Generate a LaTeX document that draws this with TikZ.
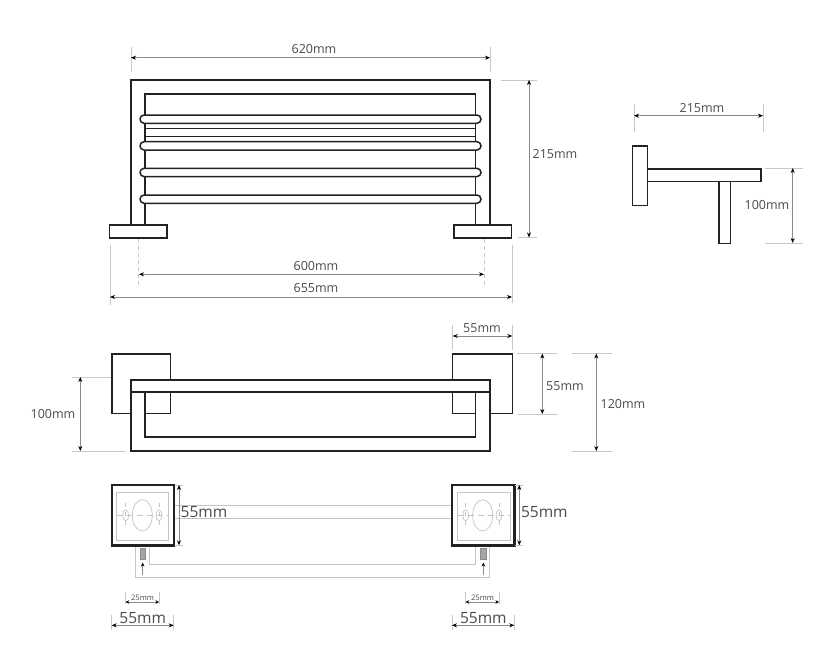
\documentclass[tikz,border=0pt]{standalone}
\usepackage{fontspec}
\setmainfont{Open Sans}
\usetikzlibrary{arrows.meta}
\definecolor{ink}{HTML}{222222}
\definecolor{txt}{HTML}{4A4A4A}
\definecolor{dimg}{HTML}{8A8A8A}
\definecolor{extg}{HTML}{C8C8C8}
\definecolor{hidg}{HTML}{C4C4C4}
\tikzset{
  part/.style={draw=ink,line width=1.5pt,fill=white,line join=miter},
  wall/.style={draw=ink,line width=2.4pt,fill=white},
  dimline/.style={draw=dimg,line width=0.8pt,{Stealth[black,length=5pt,width=4pt]}-{Stealth[black,length=5pt,width=4pt]}},
  extline/.style={draw=extg,line width=0.8pt},
  hidden/.style={draw=hidg,line width=1pt},
  fine/.style={draw=hidg,line width=0.7pt},
  midlabel/.style={text=txt,font=\fontsize{12.5}{14}\selectfont,inner sep=0pt},
  biglabel/.style={text=txt,font=\fontsize{15.5}{18}\selectfont,inner sep=0pt},
  tinylabel/.style={text=txt,font=\fontsize{7.6}{9}\selectfont,inner sep=0pt},
}
\begin{document}
\begin{tikzpicture}[x=1pt,y=-1pt]
\useasboundingbox (0,0) rectangle (838,653);
\fill[white] (0,0) rectangle (838,653);

% ---- front view
\draw[part,fill=none] (131,225) -- (131,80) -- (490,80) -- (490,225);
\draw[part,fill=none] (145,225) -- (145,94) -- (475.5,94) -- (475.5,225);
\draw[part,fill=none] (145,128.3) -- (475.5,128.3);
\draw[part,fill=none] (145,136.7) -- (475.5,136.7);
\foreach \yy in {115,141.7,168.3,195}
  \draw[part,rounded corners=4.1pt] (140,\yy) rectangle (481,\yy+8.3);
\draw[part] (109.5,225) rectangle (167,238);
\draw[part] (454,225) rectangle (511.7,238);

\coordinate (a1) at (131,57.7); \coordinate (a2) at (490,57.7);
\draw[extline] (131,47) -- (131,72);
\draw[extline] (490,47) -- (490,72);
\draw[dimline] (a1) -- (a2);
\node[midlabel] (t620) at (314,49) {620mm};

\coordinate (b1) at (529,80); \coordinate (b2) at (529,237.5);
\draw[extline] (501,80) -- (537,80);
\draw[extline] (518,237.5) -- (537,237.5);
\draw[dimline] (b1) -- (b2);
\node[midlabel] (t215a) at (555,154) {215mm};

\draw[extline,dashed,dash pattern=on 4pt off 3pt] (138.5,239) -- (138.5,287);
\draw[extline,dashed,dash pattern=on 4pt off 3pt] (484,239) -- (484,287);
\coordinate (c1) at (139,274.3); \coordinate (c2) at (484,274.3);
\draw[dimline] (c1) -- (c2);
\node[midlabel] (t600) at (316,266) {600mm};

\draw[extline] (110,245) -- (110,305);
\draw[extline] (512,245) -- (512,303);
\coordinate (d1) at (110,297); \coordinate (d2) at (512,297);
\draw[dimline] (d1) -- (d2);
\node[midlabel] (t655) at (316,288.5) {655mm};

% ---- side view
\draw[part] (647.7,169) rectangle (761,181.7);
\draw[part] (719,181.7) rectangle (730.7,243.3);
\draw[part] (632.3,146) rectangle (647.7,205.7);

\draw[extline] (634,104) -- (634,132);
\draw[extline] (763,104) -- (763,132);
\coordinate (e1) at (634,115.7); \coordinate (e2) at (763,115.7);
\draw[dimline] (e1) -- (e2);
\node[midlabel] (t215b) at (702,108) {215mm};

\draw[extline] (765,168) -- (803,168);
\draw[extline] (765,243) -- (803,243);
\coordinate (f1) at (792.7,168); \coordinate (f2) at (792.7,243);
\draw[dimline] (f1) -- (f2);
\node[midlabel] (t100a) at (767,205.5) {100mm};

% ---- top view
\draw[part] (112,354) rectangle (170.3,413.5);
\draw[part] (452.7,354) rectangle (512.3,413.5);
\draw[part,even odd rule] (131,380) rectangle (490,451) (145,392) rectangle (475.5,437);
\draw[part,fill=none] (131,392) -- (490,392);

\draw[extline] (452.7,325) -- (452.7,350);
\draw[extline] (512.3,325) -- (512.3,350);
\coordinate (g1) at (452.7,336); \coordinate (g2) at (512.3,336);
\draw[dimline] (g1) -- (g2);
\node[midlabel] (t55a) at (482,328) {55mm};

\draw[extline] (517,353.5) -- (557,353.5);
\draw[extline] (518,414) -- (558,414);
\coordinate (h1) at (542.3,353.5); \coordinate (h2) at (542.3,414);
\draw[dimline] (h1) -- (h2);
\node[midlabel] (t55b) at (565,386) {55mm};

\draw[extline] (572,353.5) -- (612,353.5);
\draw[extline] (572,451) -- (612,451);
\coordinate (i1) at (596.3,353.5); \coordinate (i2) at (596.3,451);
\draw[dimline] (i1) -- (i2);
\node[midlabel] (t120) at (623,404) {120mm};

\draw[extline] (72,377) -- (111,377);
\draw[extline] (72,451) -- (126,451);
\coordinate (j1) at (80.3,377); \coordinate (j2) at (80.3,451);
\draw[dimline] (j1) -- (j2);
\node[midlabel] (t100b) at (53,414) {100mm};

% ---- wall view: hidden rail lines
\draw[hidden] (173.7,505.7) -- (452,505.7);
\draw[hidden] (173.7,518.7) -- (452,518.7);
\draw[hidden] (135,546) -- (135,577.7) -- (489.7,577.7) -- (489.7,546);
\draw[hidden] (149,548) -- (149,564) -- (475,564) -- (475,546);

\foreach \sqa/\sqb/\ia/\ib/\cx/\sa/\sb/\dev/\devb/\arx in
  {111.7/173.7/116.7/168.7/142.3/125.7/159/140/145.3/142.7,
   452/514.3/457.7/510.3/482.7/465.7/499/480.7/486.7/483.3}{
  \draw[wall] (\sqa,485) rectangle (\sqb,545.3);
  \draw[hidden] (\ia,492.5) rectangle (\ib,540.6);
  \draw[fine] (\cx,515.3) ellipse [x radius=10,y radius=15.7];
  \draw[fine] (\sa,515.3) ellipse [x radius=3,y radius=5.5];
  \draw[fine] (\sb,515.3) ellipse [x radius=3,y radius=5.5];
  \draw[fine,dash pattern=on 6pt off 4pt] (\ia,515.3) -- (\ib,515.3);
  \draw[fine,dash pattern=on 4pt off 5pt] (\sa,503) -- (\sa,529);
  \draw[fine,dash pattern=on 4pt off 5pt] (\sb,503) -- (\sb,529);
  \draw[fill=gray!70,draw=gray!90,line width=0.5pt] (\dev,548.3) rectangle (\devb,559.3);
  \draw[draw=dimg,line width=0.7pt,-{Stealth[black,length=4pt,width=3.5pt]}] (\arx,575) -- (\arx,562.5);
}

\coordinate (k1) at (179,485); \coordinate (k2) at (179,545.3);
\draw[extline] (174.5,485) -- (183,485);
\draw[extline] (174.5,545.3) -- (183,545.3);
\draw[dimline] (k1) -- (k2);
\node[biglabel] (t55c) at (204,512) {55mm};

\coordinate (l1) at (519.3,485); \coordinate (l2) at (519.3,545.3);
\draw[extline] (515,485) -- (523,485);
\draw[extline] (515,545.3) -- (523,545.3);
\draw[dimline] (l1) -- (l2);
\node[biglabel] (t55d) at (544.3,512) {55mm};

% small and lower dimensions
\foreach \xa/\xb/\xx/\xp/\xq/\tx/\nm in
  {125.7/159/142.5/111.7/173.7/142.7/L, 465.7/499/482.5/452/514.3/483.3/R}{
  \draw[extline] (\xa,592) -- (\xa,604);
  \draw[extline] (\xb,592) -- (\xb,604);
  \coordinate (m1\nm) at (\xa,602); \coordinate (m2\nm) at (\xb,602);
  \draw[dimline,{Stealth[black,length=3.5pt,width=3.5pt]}-{Stealth[black,length=3.5pt,width=3.5pt]}] (m1\nm) -- (m2\nm);
  \node[tinylabel] (ts\nm) at (\xx,598) {25mm};
  \draw[extline] (\xp,615) -- (\xp,630);
  \draw[extline] (\xq,615) -- (\xq,630);
  \coordinate (n1\nm) at (\xp,625.3); \coordinate (n2\nm) at (\xq,625.3);
  \draw[dimline] (n1\nm) -- (n2\nm);
  \node[biglabel] (tb\nm) at (\tx,618) {55mm};
}
\end{tikzpicture}
\end{document}
